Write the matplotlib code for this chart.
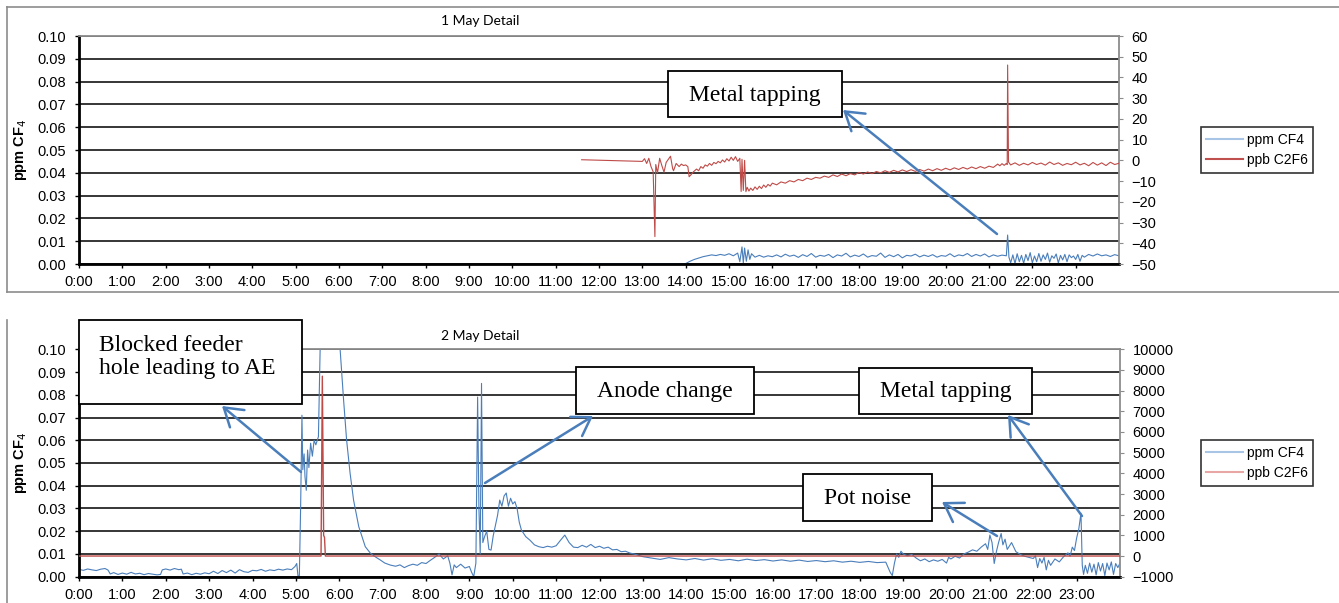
## two-day cf4 / c2f6 detail charts
import numpy as np
import matplotlib.pyplot as plt
from matplotlib.lines import Line2D
from matplotlib.patches import Rectangle, FancyArrowPatch

plt.rcParams['font.family'] = ['Liberation Sans', 'DejaVu Sans']

W, H = 1339, 603

## tick labels
hourLabels = ['%d:00' % h for h in range(24)]
cf4Ticks = [0.00, 0.01, 0.02, 0.03, 0.04, 0.05, 0.06, 0.07, 0.08, 0.09, 0.10]
c2f6TicksMay1 = [-50, -40, -30, -20, -10, 0, 10, 20, 30, 40, 50, 60]
c2f6TicksMay2 = [-1000, 0, 1000, 2000, 3000, 4000, 5000, 6000, 7000, 8000, 9000, 10000]

## 1 may - ppm cf4 (hours, value)
may1Cf4Time = [11.6, 13.95, 14.0, 14.1, 14.2, 14.3, 14.4, 14.5, 14.6, 14.7, 14.8, 14.9, 15.0, 15.1, 15.2,
               15.25, 15.3, 15.33, 15.36, 15.4, 15.44, 15.48, 15.52, 15.6, 15.7, 15.8, 15.9, 16.0,
               16.1, 16.2, 16.3, 16.4, 16.5, 16.6, 16.7, 16.8, 16.9, 17.0, 17.1, 17.2, 17.3, 17.4, 17.5,
               17.6, 17.7, 17.8, 17.9, 18.0, 18.1, 18.2, 18.3, 18.4, 18.5, 18.6, 18.7, 18.8, 18.9, 19.0,
               19.1, 19.2, 19.3, 19.4, 19.5, 19.6, 19.7, 19.8, 19.9, 20.0, 20.1, 20.2, 20.3, 20.4, 20.5,
               20.6, 20.7, 20.8, 20.9, 21.0, 21.1, 21.2, 21.3, 21.4, 21.43, 21.46, 21.5, 21.55, 21.6,
               21.65, 21.7, 21.75, 21.8, 21.85, 21.9, 21.95, 22.0, 22.05, 22.1, 22.15, 22.2, 22.25, 22.3,
               22.35, 22.4, 22.45, 22.5, 22.55, 22.6, 22.65, 22.7, 22.75, 22.8, 22.85, 22.9, 22.95, 23.0,
               23.05, 23.1, 23.15, 23.2, 23.3, 23.4, 23.5, 23.6, 23.7, 23.8, 23.9, 24.0]
may1Cf4 = [0.0, 0.0, 0.0002, 0.0012, 0.0020, 0.0026, 0.0032, 0.0036, 0.0040, 0.0037, 0.0042, 0.0038, 0.0045, 0.0036, 0.0048,
           0.0010, 0.0075, 0.0005, 0.0070, 0.0012, 0.0062, 0.0020, 0.0045, 0.0030, 0.0038, 0.0030, 0.0036, 0.0032,
           0.0040, 0.0031, 0.0043, 0.0034, 0.0039, 0.0029, 0.0041, 0.0033, 0.0046, 0.0030, 0.0038, 0.0034, 0.0042, 0.0028, 0.0040,
           0.0035, 0.0047, 0.0031, 0.0039, 0.0033, 0.0044, 0.0030, 0.0037, 0.0034, 0.0048, 0.0029, 0.0040, 0.0032, 0.0042, 0.0027,
           0.0038, 0.0035, 0.0043, 0.0031, 0.0039, 0.0033, 0.0041, 0.0030, 0.0037, 0.0034, 0.0045, 0.0032, 0.0040, 0.0036, 0.0046,
           0.0033, 0.0042, 0.0035, 0.0044, 0.0031, 0.0040, 0.0034, 0.0039, 0.0036, 0.0127, 0.0030, 0.0005, 0.0040, 0.0002,
           0.0045, 0.0010, 0.0038, 0.0003, 0.0042, 0.0015, 0.0050, 0.0005, 0.0035, 0.0010, 0.0046, 0.0012, 0.0040, 0.0020,
           0.0048, 0.0008, 0.0036, 0.0025, 0.0044, 0.0005, 0.0038, 0.0018, 0.0042, 0.0010, 0.0040, 0.0028, 0.0035, 0.0020,
           0.0042, 0.0012, 0.0038, 0.0030, 0.0042, 0.0035, 0.0044, 0.0036, 0.0040, 0.0033, 0.0041, 0.0036]

## 1 may - ppb c2f6
may1C2f6Time = [11.6, 13.0, 13.05, 13.1, 13.15, 13.2, 13.25, 13.29, 13.31, 13.35, 13.4, 13.45, 13.5, 13.55, 13.6,
                13.65, 13.7, 13.72, 13.78, 13.85, 13.9, 13.95, 14.0, 14.05, 14.08, 14.12, 14.18, 14.25, 14.3,
                14.35, 14.4, 14.45, 14.5, 14.55, 14.6, 14.65, 14.7, 14.75, 14.8, 14.85, 14.9, 14.95, 15.0,
                15.05, 15.1, 15.15, 15.2, 15.25, 15.28, 15.3, 15.33, 15.36, 15.39, 15.42, 15.46, 15.5, 15.55,
                15.6, 15.65, 15.7, 15.75, 15.8, 15.85, 15.9, 15.95, 16.0, 16.1, 16.2, 16.3, 16.4, 16.5, 16.6,
                16.7, 16.8, 16.9, 17.0, 17.1, 17.2, 17.3, 17.4, 17.5, 17.6, 17.7, 17.8, 17.9, 18.0, 18.1,
                18.2, 18.3, 18.4, 18.5, 18.6, 18.7, 18.8, 18.9, 19.0, 19.1, 19.2, 19.3, 19.4, 19.5, 19.6,
                19.7, 19.8, 19.9, 20.0, 20.1, 20.2, 20.3, 20.4, 20.5, 20.6, 20.7, 20.8, 20.9, 21.0, 21.1,
                21.2, 21.25, 21.3, 21.35, 21.4, 21.42, 21.43, 21.45, 21.5, 21.6, 21.7, 21.8, 21.9, 22.0,
                22.1, 22.2, 22.3, 22.4, 22.5, 22.6, 22.7, 22.8, 22.9, 23.0, 23.1, 23.2, 23.3, 23.4, 23.5,
                23.6, 23.7, 23.8, 23.9, 24.0]
may1C2f6 = [0.3, -0.5, 0.8, -1.5, 1.0, -3.0, -5.5, -36.8, -2.0, -6.0, 1.0, -2.5, -5.7, -1.0, 0.5,
            2.0, -4.0, -5.0, -1.5, -3.0, -1.8, -2.5, -2.2, -3.0, -7.9, -7.0, -5.5, -4.2, -5.0,
            -3.0, -3.8, -2.2, -2.8, -1.5, -2.4, -1.0, -1.6, -0.5, -1.2, 0.2, -0.8, 0.8, -0.3,
            1.5, 0.0, 1.8, -0.5, 1.0, -15.0, 0.5, -14.5, 0.0, -15.1, -13.0, -14.8, -13.4, -14.5,
            -12.8, -14.0, -12.5, -13.6, -11.9, -13.0, -11.6, -12.4, -11.0, -11.8, -10.4, -11.0, -9.8, -10.4, -9.2,
            -9.8, -8.6, -9.2, -8.2, -8.6, -7.6, -8.2, -7.0, -7.8, -6.6, -7.4, -6.4, -7.0, -5.8, -6.6,
            -5.6, -6.4, -5.4, -6.0, -5.0, -5.8, -4.8, -5.6, -4.6, -5.4, -4.5, -5.3, -4.4, -5.2, -4.2,
            -5.0, -4.0, -4.8, -3.8, -4.6, -3.6, -4.4, -3.4, -4.2, -3.2, -4.0, -3.0, -3.8, -2.8, -3.4,
            -1.8, -2.6, -1.6, -2.4, -1.5, -2.0, 46.0, -0.8, -2.2, -1.2, -2.4, -1.4, -2.2, -1.0,
            -2.0, -1.3, -2.3, -0.8, -2.0, -1.2, -2.4, -1.5, -2.1, -0.9, -2.2, -1.4, -2.6, -1.0, -2.3,
            -1.2, -2.5, -0.9, -2.0, -1.4]

## 2 may - ppm cf4
may2Cf4Time = [0.0, 0.1, 0.2, 0.3, 0.4, 0.5, 0.6, 0.67, 0.72, 0.8, 0.9, 1.0, 1.1, 1.2, 1.3, 1.4, 1.5, 1.6,
               1.7, 1.8, 1.88, 1.92, 2.0, 2.1, 2.2, 2.3, 2.36, 2.4, 2.5, 2.6, 2.7, 2.8, 2.9, 3.0, 3.1, 3.2,
               3.3, 3.4, 3.5, 3.6, 3.7, 3.8, 3.9, 4.0, 4.1, 4.2, 4.3, 4.4, 4.5, 4.6, 4.7, 4.8, 4.9, 4.98,
               5.02, 5.05, 5.08, 5.11, 5.14, 5.16, 5.19, 5.21, 5.24, 5.27, 5.3, 5.34, 5.38, 5.42, 5.46,
               5.52, 5.56, 5.60, 5.9, 6.02, 6.1, 6.17, 6.25, 6.33, 6.45, 6.6, 6.72, 6.85, 6.95, 7.05, 7.18,
               7.3, 7.4, 7.5, 7.6, 7.7, 7.8, 7.9, 8.0, 8.1, 8.2, 8.3, 8.4, 8.5, 8.55, 8.6, 8.65, 8.7, 8.8,
               8.9, 9.0, 9.05, 9.1, 9.15, 9.19, 9.22, 9.25, 9.28, 9.31, 9.35, 9.4, 9.45, 9.5, 9.55, 9.6,
               9.65, 9.7, 9.75, 9.8, 9.85, 9.9, 9.95, 10.0, 10.05, 10.1, 10.15, 10.2, 10.3, 10.4, 10.5,
               10.6, 10.7, 10.8, 10.9, 11.0, 11.1, 11.2, 11.3, 11.4, 11.5, 11.6, 11.7, 11.8, 11.9, 12.0,
               12.1, 12.2, 12.3, 12.4, 12.5, 12.6, 12.7, 12.8, 12.9, 13.0, 13.2, 13.4, 13.6, 13.8, 14.0,
               14.2, 14.4, 14.6, 14.8, 15.0, 15.2, 15.4, 15.6, 15.8, 16.0, 16.2, 16.4, 16.6, 16.8, 17.0,
               17.2, 17.4, 17.6, 17.8, 18.0, 18.2, 18.4, 18.6, 18.7, 18.75, 18.8, 18.85, 18.9, 18.95, 19.0,
               19.1, 19.2, 19.3, 19.4, 19.5, 19.6, 19.7, 19.8, 19.9, 20.0, 20.05, 20.1, 20.2, 20.3, 20.4,
               20.5, 20.6, 20.7, 20.8, 20.9, 20.95, 21.0, 21.05, 21.1, 21.15, 21.2, 21.26, 21.3, 21.35,
               21.4, 21.5, 21.6, 21.7, 21.8, 21.9, 22.0, 22.05, 22.1, 22.15, 22.2, 22.25, 22.3, 22.35,
               22.4, 22.5, 22.6, 22.7, 22.8, 22.85, 22.9, 22.95, 23.0, 23.05, 23.1, 23.13, 23.16, 23.2,
               23.25, 23.3, 23.35, 23.4, 23.45, 23.5, 23.55, 23.6, 23.65, 23.7, 23.75, 23.8, 23.85, 23.9,
               23.95, 24.0]
may2Cf4 = [0.0032, 0.0028, 0.0034, 0.0030, 0.0027, 0.0033, 0.0036, 0.0029, 0.0012, 0.0018, 0.0010, 0.0016, 0.0011, 0.0019, 0.0012, 0.0015, 0.0009, 0.0014,
           0.0011, 0.0008, 0.0010, 0.0030, 0.0034, 0.0029, 0.0036, 0.0031, 0.0033, 0.0012, 0.0016, 0.0009, 0.0015, 0.0011, 0.0017, 0.0013, 0.0024, 0.0014,
           0.0027, 0.0018, 0.0029, 0.0016, 0.0031, 0.0022, 0.0019, 0.0028, 0.0026, 0.0032, 0.0024, 0.0030, 0.0027, 0.0033, 0.0029, 0.0034, 0.0031, 0.0045,
           0.0058, 0.0, 0.0005, 0.031, 0.071, 0.047, 0.054, 0.044, 0.038, 0.0557, 0.048, 0.0587, 0.053, 0.060, 0.058,
           0.0616, 0.10, 0.14, 0.14, 0.10, 0.0777, 0.060, 0.0455, 0.0337, 0.022, 0.0132, 0.0103, 0.0085, 0.0073, 0.0060, 0.0051,
           0.0046, 0.0052, 0.0040, 0.0049, 0.0055, 0.0050, 0.0062, 0.0058, 0.0072, 0.0085, 0.0100, 0.0078, 0.0092, 0.0060, 0.0008, 0.0052, 0.0040, 0.0055,
           0.0038, 0.0045, 0.0020, 0.0, 0.0060, 0.079, 0.030, 0.010, 0.085, 0.015, 0.0176, 0.0200, 0.0120, 0.0117, 0.0180, 0.0225,
           0.0270, 0.0337, 0.0310, 0.0355, 0.0368, 0.0310, 0.0345, 0.0320, 0.0330, 0.0300, 0.0240, 0.0205, 0.0176, 0.0160, 0.0140,
           0.0132, 0.0128, 0.0134, 0.0130, 0.0136, 0.0160, 0.0183, 0.0150, 0.0130, 0.0128, 0.0138, 0.0130, 0.0142, 0.0128, 0.0134,
           0.0125, 0.0130, 0.0118, 0.0120, 0.0110, 0.0112, 0.0104, 0.0100, 0.0094, 0.0088, 0.0082, 0.0076, 0.0084, 0.0078, 0.0074,
           0.0080, 0.0073, 0.0079, 0.0072, 0.0076, 0.0070, 0.0077, 0.0071, 0.0075, 0.0069, 0.0074, 0.0068, 0.0073, 0.0067, 0.0071,
           0.0066, 0.0070, 0.0064, 0.0068, 0.0063, 0.0067, 0.0062, 0.0064, 0.0020, 0.0005, 0.0060, 0.0100, 0.0085, 0.0112, 0.0100,
           0.0092, 0.0098, 0.0082, 0.0070, 0.0078, 0.0066, 0.0074, 0.0068, 0.0076, 0.0060, 0.0085, 0.0078, 0.0090, 0.0082, 0.0100,
           0.0108, 0.0118, 0.0112, 0.0130, 0.0145, 0.0120, 0.0183, 0.0150, 0.0058, 0.0110, 0.0150, 0.0190, 0.0140, 0.0165,
           0.0120, 0.0150, 0.0110, 0.0098, 0.0090, 0.0085, 0.0080, 0.0092, 0.0040, 0.0080, 0.0060, 0.0085, 0.0030, 0.0072,
           0.0050, 0.0078, 0.0065, 0.0088, 0.0105, 0.0090, 0.0130, 0.0115, 0.0170, 0.0210, 0.0279, 0.0050, 0.0010, 0.0050,
           0.0015, 0.0060, 0.0020, 0.0055, 0.0008, 0.0062, 0.0025, 0.0058, 0.0005, 0.0060, 0.0030, 0.0065, 0.0010, 0.0058,
           0.0040, 0.0060]

## 2 may - ppb c2f6
may2C2f6Time = [0.0, 5.58, 5.61, 5.64, 5.66, 5.68, 24.0]
may2C2f6 = [0, 0, 8700, 1000, 900, 0, 0]

## colours
blue = '#4a7ebb'
red = '#be4b48'
frameGrey = '#8c8c8c'

fig = plt.figure(figsize=(W / 100, H / 100), dpi=100)


## helper to turn image pixels into figure fractions
def px(x, y):
    return (x / W, 1 - y / H)


def setupPanel(rect, rightTicks, title, titleY):
    ax = fig.add_axes(rect)
    ax.set_xlim(0, 24)
    ax.set_ylim(0, 0.1)
    ax.set_yticks(cf4Ticks)
    ax.set_yticklabels(['%.2f' % v for v in cf4Ticks])
    ax.set_xticks(range(24))
    ax.set_xticklabels(hourLabels)
    ax.grid(axis='y', color='black', linewidth=1.1)
    ax.set_axisbelow(True)
    for s in ['top', 'right']:
        ax.spines[s].set_color(frameGrey)
        ax.spines[s].set_linewidth(1.3)
    for s in ['left', 'bottom']:
        ax.spines[s].set_color('black')
        ax.spines[s].set_linewidth(2)
    ax.tick_params(axis='both', direction='out', length=3, width=1, labelsize=10.5, pad=5)
    ax.tick_params(axis='y', pad=6)
    ax.set_ylabel('ppm CF$_4$', fontsize=10.5, fontweight='bold', labelpad=6)

    ax2 = ax.twinx()
    ax2.set_xlim(0, 24)
    ax2.set_ylim(rightTicks[0], rightTicks[-1])
    ax2.set_yticks(rightTicks)
    ax2.tick_params(axis='y', direction='out', length=3, color=frameGrey, labelsize=10.5, pad=6)
    for s in ['top', 'right', 'left', 'bottom']:
        ax2.spines[s].set_visible(False)

    fig.text(480 / W, 1 - titleY / H, title, ha='center', va='center', fontsize=10, family='Lato')
    return ax, ax2


## top panel - 1 may
ax1, ax1r = setupPanel([79 / W, 1 - 264 / H, 1040 / W, 228 / H], c2f6TicksMay1, '1 May Detail', 21)
ax1.plot(may1Cf4Time, may1Cf4, color=blue, linewidth=0.8)
ax1r.plot(may1C2f6Time, may1C2f6, color=red, linewidth=0.8)

## bottom panel - 2 may
ax2, ax2r = setupPanel([79 / W, 1 - 576.7 / H, 1041 / W, 227.4 / H], c2f6TicksMay2, '2 May Detail', 336)
ax2.plot(may2Cf4Time, may2Cf4, color=blue, linewidth=0.8)
ax2r.plot(may2C2f6Time, may2C2f6, color=red, linewidth=1.0)

## legends
for legY, redCol in [(150, '#c0504d'), (463, '#e8a6a4')]:
    handles = [Line2D([], [], color='#a9c5e6', linewidth=1.5),
               Line2D([], [], color=redCol, linewidth=1.5)]
    leg = fig.legend(handles, ['ppm CF4', 'ppb C2F6'], loc='center', bbox_to_anchor=px(1257, legY),
                     fontsize=10, frameon=True, fancybox=False, handlelength=2.6, handletextpad=0.3,
                     borderpad=0.4, labelspacing=0.45, borderaxespad=0)
    leg.get_frame().set_edgecolor('black')
    leg.get_frame().set_linewidth(1.2)

## outer chart frames
fig.add_artist(Line2D([7 / W, 1], [1 - 7 / H, 1 - 7 / H], color=frameGrey, linewidth=1.2))
fig.add_artist(Line2D([7 / W, 1], [1 - 292 / H, 1 - 292 / H], color=frameGrey, linewidth=1.2))
fig.add_artist(Line2D([7 / W, 7 / W], [1 - 7 / H, 1 - 292 / H], color=frameGrey, linewidth=1.2))
fig.add_artist(Line2D([7 / W, 7 / W], [1 - 320 / H, 0], color=frameGrey, linewidth=1.2))

## annotation boxes (x0, y0, x1, y1 in pixels)
boxes = [(668, 71, 842, 117, 'Metal tapping'),
         (79, 320, 302, 404, None),
         (576, 367, 754, 414, 'Anode change'),
         (803, 474, 932, 521, 'Pot noise'),
         (859, 368, 1032, 414, 'Metal tapping')]
for x0, y0, x1, y1, label in boxes:
    fig.add_artist(Rectangle(px(x0, y1), (x1 - x0) / W, (y1 - y0) / H, transform=fig.transFigure,
                             facecolor='white', edgecolor='black', linewidth=1.3, zorder=5))
    if label:
        fig.text((x0 + x1) / 2 / W, 1 - ((y0 + y1) / 2 + 1) / H, label, ha='center', va='center',
                 fontsize=17, family='Liberation Serif', zorder=6)
fig.text(99 / W, 1 - 357 / H, 'Blocked feeder\nhole leading to AE', ha='left', va='center',
         fontsize=17, family='Liberation Serif', linespacing=1.1, zorder=6)

## annotation arrows (tail -> head)
arrows = [((997, 234), (843, 110)),
          ((301, 472), (222, 406)),
          ((485, 483), (593, 416)),
          ((997, 536), (942, 502)),
          ((1082, 516), (1008, 415))]
for tail, head in arrows:
    fig.add_artist(FancyArrowPatch(px(*tail), px(*head), transform=fig.transFigure,
                                   arrowstyle='->,head_length=0.7,head_width=0.45', mutation_scale=18,
                                   color=blue, linewidth=1.8, shrinkA=0, shrinkB=0, zorder=7))

fig.savefig('out.png', dpi=100)
